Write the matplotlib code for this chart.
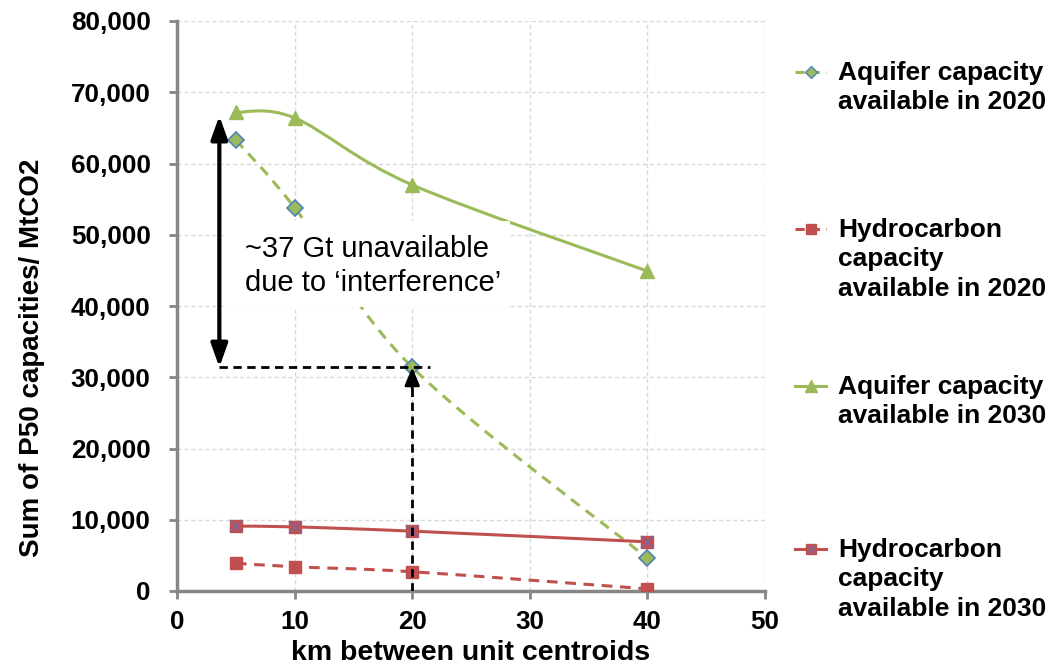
import numpy as np
import matplotlib
matplotlib.use("Agg")
import matplotlib.pyplot as plt
from matplotlib.path import Path
from matplotlib.patches import PathPatch, Rectangle, FancyArrowPatch
from matplotlib.lines import Line2D

# ---------------- data ----------------
km = [5, 10, 20, 40]
aquifer_2020 = [63300, 53800, 31400, 4600]
hydrocarbon_2020 = [3900, 3400, 2700, 300]
aquifer_2030 = [67200, 66400, 57000, 44900]
hydrocarbon_2030 = [9100, 9000, 8400, 6900]

labels = ["Aquifer capacity\navailable in 2020",
          "Hydrocarbon\ncapacity\navailable in 2020",
          "Aquifer capacity\navailable in 2030",
          "Hydrocarbon\ncapacity\navailable in 2030"]

x_ticks = [0, 10, 20, 30, 40, 50]
y_ticks = [0, 10000, 20000, 30000, 40000, 50000, 60000, 70000, 80000]

annotation_text = "~37 Gt unavailable\ndue to \u2018interference\u2019"
gap_top = 66700      # top of double arrow
gap_bottom = 31400   # bottom of double arrow (aquifer 2020 at 20 km)
arrow_x = 3.6
ref_km = 20

GREEN = "#9BBB59"
RED = "#C0504D"
BLUE = "#4F81BD"
PURPLE = "#8064A2"
GRAY = "#868686"

plt.rcParams["font.family"] = ["Liberation Sans", "DejaVu Sans"]

fig = plt.figure(figsize=(10.48, 6.67), dpi=100)
ax = fig.add_axes([177/1048, 76/667, 588/1048, 570/667])


def smooth_path(xs, ys):
    pts = np.column_stack([xs, ys]).astype(float)
    n = len(pts)
    verts = [pts[0]]
    codes = [Path.MOVETO]
    for i in range(n - 1):
        p0 = pts[i - 1] if i > 0 else pts[i]
        p1 = pts[i]
        p2 = pts[i + 1]
        p3 = pts[i + 2] if i + 2 < n else pts[i + 1]
        c1 = p1 + (p2 - p0) / 6.0
        c2 = p2 - (p3 - p1) / 6.0
        verts += [c1, c2, p2]
        codes += [Path.CURVE4] * 3
    return Path(verts, codes)


def draw_series(xs, ys, color, ls, z):
    patch = PathPatch(smooth_path(xs, ys), fill=False, edgecolor=color,
                      lw=2.2, linestyle=ls, zorder=z, capstyle="butt")
    ax.add_patch(patch)


# lines
draw_series(km, aquifer_2020, GREEN, (0, (3.5, 2.5)), 2)
draw_series(km, hydrocarbon_2020, RED, (0, (3.5, 2.5)), 2)
draw_series(km, aquifer_2030, GREEN, "-", 2)
draw_series(km, hydrocarbon_2030, RED, "-", 2)

# markers
ax.plot(km, aquifer_2020, ls="none", marker="D", ms=8, mfc=GREEN, mec=BLUE, mew=1.2, zorder=3)
ax.plot(km, hydrocarbon_2020, ls="none", marker="s", ms=9, mfc=RED, mec=RED, zorder=3)
ax.plot(km, aquifer_2030, ls="none", marker="^", ms=10, mfc=GREEN, mec=GREEN, zorder=3)
ax.plot(km, hydrocarbon_2030, ls="none", marker="s", ms=9, mfc=RED, mec=RED, zorder=3)
ax.plot(km, hydrocarbon_2030, ls="none", marker="x", ms=8, mec=PURPLE, mew=1.2, zorder=3.1)

# white text box
ax.add_patch(Rectangle((4.0, 39800), 24.3, 12100, facecolor="white", edgecolor="none", zorder=4))
ax.text(5.8, 45600, annotation_text, fontsize=21, va="center", ha="left",
        linespacing=1.24, zorder=5)

# black arrows
ax.add_patch(FancyArrowPatch((arrow_x, gap_bottom), (arrow_x, gap_top),
                             arrowstyle="<|-|>,head_length=0.7,head_width=0.25",
                             mutation_scale=20, lw=3, color="black", zorder=6,
                             shrinkA=0, shrinkB=0))
ax.plot([arrow_x, 21.5], [gap_bottom, gap_bottom], color="black", lw=2,
        ls=(0, (3, 2)), zorder=6)
ax.plot([ref_km, ref_km], [0, gap_bottom - 2000], color="black", lw=2,
        ls=(0, (3, 2)), zorder=6)
ax.add_patch(FancyArrowPatch((ref_km, gap_bottom - 3000), (ref_km, gap_bottom),
                             arrowstyle="-|>,head_length=0.6,head_width=0.25",
                             mutation_scale=18, lw=2, color="black", zorder=6,
                             shrinkA=0, shrinkB=0))

# axes styling
ax.set_xlim(0, 50)
ax.set_ylim(0, 80000)
ax.set_xticks(x_ticks)
ax.set_yticks(y_ticks)
ax.set_xticklabels([str(v) for v in x_ticks])
ax.set_yticklabels([f"{v:,}" for v in y_ticks])
ax.grid(True, color="#D9D9D9", ls=(0, (3, 2)), lw=1)
ax.set_axisbelow(True)
for s in ["top", "right"]:
    ax.spines[s].set_visible(False)
for s in ["left", "bottom"]:
    ax.spines[s].set_color(GRAY)
    ax.spines[s].set_linewidth(2.5)
ax.tick_params(direction="out", length=6, width=2, color=GRAY, labelsize=18.7)
ax.tick_params(axis="y", pad=13)
ax.tick_params(axis="x", pad=8)
for t in ax.get_xticklabels() + ax.get_yticklabels():
    t.set_fontweight("bold")
ax.set_xlabel("km between unit centroids", fontsize=20.5, fontweight="bold", labelpad=4)
ax.set_ylabel("Sum of P50 capacities/ MtCO2", fontsize=20, fontweight="bold")
ax.yaxis.set_label_coords(-0.224, 0.409)

# manual legend
W, H = 1048.0, 667.0
handle_y = [72, 229, 386, 549]
styles = [
    dict(color=GREEN, ls=(0, (3, 2)), marker="D", ms=6, mfc=GREEN, mec=BLUE),
    dict(color=RED, ls=(0, (3, 2)), marker="s", ms=7, mfc=RED, mec=RED),
    dict(color=GREEN, ls="-", marker="^", ms=8, mfc=GREEN, mec=GREEN),
    dict(color=RED, ls="-", marker="s", ms=7, mfc=RED, mec=RED),
]
for hy, st, lab, i in zip(handle_y, styles, labels, range(4)):
    yy = 1 - hy / H
    fig.add_artist(Line2D([795 / W, 826 / W], [yy, yy], lw=2.2, color=st["color"],
                          ls=st["ls"], transform=fig.transFigure))
    fig.add_artist(Line2D([811 / W], [yy], ls="none", marker=st["marker"], ms=st["ms"],
                          mfc=st["mfc"], mec=st["mec"], transform=fig.transFigure))
    if i == 3:
        fig.add_artist(Line2D([811 / W], [yy], ls="none", marker="x", ms=6,
                              mec=PURPLE, mew=1, transform=fig.transFigure))
    fig.text(838 / W, 1 - (hy - 11) / H, lab, fontsize=19, fontweight="bold",
             va="top", ha="left", linespacing=1.28)

fig.savefig("out.png", dpi=100)
